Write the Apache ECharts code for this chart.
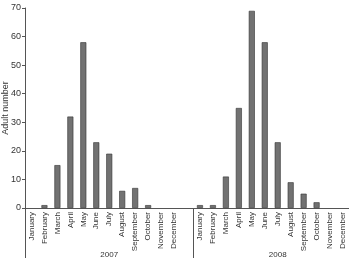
<!DOCTYPE html>
<html>
<head>
<meta charset="utf-8">
<script src="https://cdn.jsdelivr.net/npm/echarts@6/dist/echarts.min.js"></script>
<style>
  html, body { margin: 0; padding: 0; background: #fff; }
  #main { width: 349px; height: 258px; }
</style>
</head>
<body>
<div id="main"></div>
<script>
const months = ['January', 'February', 'March', 'April', 'May', 'June', 'July',
  'August', 'September', 'October', 'November', 'December']
const years = ['2007', '2008']
const adults2007 = [0, 1, 15, 32, 58, 23, 19, 6, 7, 1, 0, 0]
const adults2008 = [1, 1, 11, 35, 69, 58, 23, 9, 5, 2, 0, 0]
const yTicks = [0, 10, 20, 30, 40, 50, 60, 70]

// one empty slot between the two years
const cats = months.concat([''], months)
const values = adults2007.concat([null], adults2008)
  .map(v => v === 0 ? { value: 0, itemStyle: { borderWidth: 0 } } : v)
const yearCats = cats.map((_, i) => i === 6 ? years[0] : i === 19 ? years[1] : '')

var chart = echarts.init(document.getElementById('main'))

let font = 'Liberation Sans, Arial, sans-serif'

let option = {
  animation: false,
  grid: { left: 25, right: 0, top: 8, bottom: 50, outerBoundsMode: 'none', containLabel: false },
  xAxis: [
    {
      type: 'category',
      data: cats,
      axisLine: { lineStyle: { color: '#555', width: 1 } },
      axisTick: { show: false },
      axisLabel: {
        rotate: 90, interval: 0, margin: 4,
        fontSize: 8, color: '#333', fontFamily: font
      }
    },
    {
      type: 'category',
      data: yearCats,
      position: 'bottom',
      axisLine: { show: false },
      axisTick: {
        show: true, length: 50, inside: false,
        interval: (i) => i === 0 || i === 13,
        lineStyle: { color: '#555' }
      },
      axisLabel: {
        interval: 0, margin: 43,
        fontSize: 8, color: '#333', fontFamily: font
      }
    }
  ],
  yAxis: {
    type: 'value',
    min: yTicks[0],
    max: yTicks[yTicks.length - 1],
    interval: 10,
    name: 'Adult number',
    nameLocation: 'middle',
    nameGap: 15,
    nameMoveOverlap: false,
    nameTextStyle: { fontSize: 9, color: '#333', fontFamily: font },
    axisLine: { show: true, lineStyle: { color: '#555' } },
    axisTick: { show: true, length: 3, lineStyle: { color: '#555' } },
    axisLabel: { fontSize: 9, color: '#333', margin: 4, fontFamily: font },
    splitLine: { show: false }
  },
  series: [{
    type: 'bar',
    data: values,
    barWidth: 6,
    itemStyle: { color: '#727272', borderColor: '#333', borderWidth: 0.6 }
  }]
}

chart.setOption(option)
</script>
</body>
</html>
